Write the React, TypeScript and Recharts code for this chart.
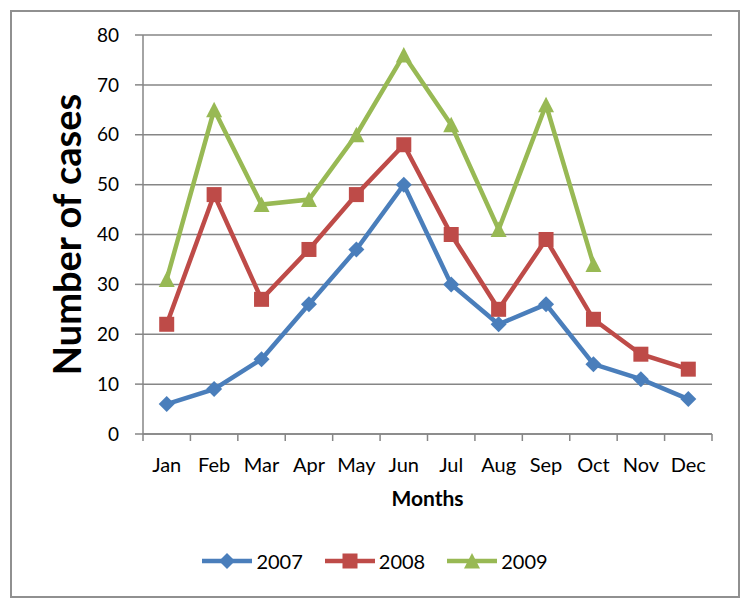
import React from 'react';
import { LineChart, Line, XAxis, YAxis, CartesianGrid, Legend, Label } from 'recharts';

const months = ['Jan', 'Feb', 'Mar', 'Apr', 'May', 'Jun', 'Jul', 'Aug', 'Sep', 'Oct', 'Nov', 'Dec'];
const cases2007 = [6, 9, 15, 26, 37, 50, 30, 22, 26, 14, 11, 7];
const cases2008 = [22, 48, 27, 37, 48, 58, 40, 25, 39, 23, 16, 13];
const cases2009 = [31, 65, 46, 47, 60, 76, 62, 41, 66, 34, null, null];
const yTicks = [0, 10, 20, 30, 40, 50, 60, 70, 80];

const data = months.map((m, i) => ({
  month: m,
  y2007: cases2007[i],
  y2008: cases2008[i],
  y2009: cases2009[i],
}));

const W = 750;
const H = 607;
const margin = { top: 35, right: 38, left: 0, bottom: 0 };
const Y_AXIS_W = 143;
const X_AXIS_H = 173;
const HALF_BAND = (W - Y_AXIS_W - margin.right) / months.length / 2;

const FONT = 'Lato, "Open Sans", sans-serif';
const GRID = '#868686';
const BLUE = '#4A7EBB';
const RED = '#BE4B48';
const GREEN = '#98B954';

const Diamond = ({ cx, cy, fill }: any) =>
  cx == null || cy == null ? <g /> : (
    <polygon points={`${cx},${cy - 8} ${cx + 8},${cy} ${cx},${cy + 8} ${cx - 8},${cy}`} fill={fill} />
  );
const Square = ({ cx, cy, fill }: any) =>
  cx == null || cy == null ? <g /> : <rect x={cx - 7.5} y={cy - 7.5} width={15} height={15} fill={fill} />;
const Triangle = ({ cx, cy, fill }: any) =>
  cx == null || cy == null ? <g /> : (
    <polygon points={`${cx},${cy - 8} ${cx + 8},${cy + 7.5} ${cx - 8},${cy + 7.5}`} fill={fill} />
  );

const series = [
  { key: 'y2007', name: '2007', color: BLUE, Marker: Diamond },
  { key: 'y2008', name: '2008', color: RED, Marker: Square },
  { key: 'y2009', name: '2009', color: GREEN, Marker: Triangle },
];

const MonthTick = ({ x, y, payload, index }: any) => (
  <g>
    <line x1={x - HALF_BAND} x2={x - HALF_BAND} y1={y - 8} y2={y - 1} stroke={GRID} strokeWidth={1.5} />
    {index === months.length - 1 && (
      <line x1={x + HALF_BAND} x2={x + HALF_BAND} y1={y - 8} y2={y - 1} stroke={GRID} strokeWidth={1.5} />
    )}
    <text x={x} y={y} dy={22} textAnchor="middle" dominantBaseline="central" fill="#000" fontSize={20} fontFamily={FONT}>
      {payload.value}
    </text>
  </g>
);

const LegendContent = () => (
  <div style={{ display: 'flex', justifyContent: 'center', alignItems: 'center', fontFamily: FONT, fontSize: 20 }}>
    {series.map((s) => (
      <div key={s.key} style={{ display: 'flex', alignItems: 'center', margin: '0 11px' }}>
        <svg width={50} height={20}>
          <line x1={0} x2={50} y1={10} y2={10} stroke={s.color} strokeWidth={4.5} />
          <s.Marker cx={25} cy={10} fill={s.color} />
        </svg>
        <span style={{ marginLeft: 4, color: '#000' }}>{s.name}</span>
      </div>
    ))}
  </div>
);

export default function App() {
  return (
    <div style={{ position: 'absolute', left: 0, top: 0, width: W, height: H, background: '#fff' }}>
      <div
        style={{
          position: 'absolute',
          left: 10,
          top: 10,
          width: 726,
          height: 584,
          border: '2px solid #909090',
        }}
      />
      <LineChart width={W} height={H} data={data} margin={margin}>
        <CartesianGrid vertical={false} stroke={GRID} strokeWidth={1.5} />
        <XAxis
          dataKey="month"
          height={X_AXIS_H}
          padding={{ left: HALF_BAND, right: HALF_BAND }}
          stroke={GRID}
          strokeWidth={1.5}
          tickLine={false}
          tickSize={8}
          tickMargin={0}
          interval={0}
          tick={<MonthTick />}
        >
          <Label
            content={({ viewBox }: any) => (
              <text
                x={viewBox.x + viewBox.width / 2}
                y={viewBox.y + 63}
                textAnchor="middle"
                dominantBaseline="central"
                fontFamily={FONT}
                fontWeight="bold"
                fontSize={21}
                fill="#000"
              >
                Months
              </text>
            )}
          />
        </XAxis>
        <YAxis
          width={Y_AXIS_W}
          domain={[0, 80]}
          ticks={yTicks}
          interval={0}
          stroke={GRID}
          strokeWidth={1.5}
          tickSize={8}
          tickMargin={16}
          tick={{ fill: '#000', fontSize: 19, fontFamily: FONT }}
        >
          <Label
            content={({ viewBox }: any) => (
              <text
                x={66}
                y={viewBox.y + viewBox.height / 2}
                transform={`rotate(-90, 66, ${viewBox.y + viewBox.height / 2})`}
                textAnchor="middle"
                dominantBaseline="central"
                fontFamily={FONT}
                fontWeight="bold"
                fontSize={38}
                fill="#000"
              >
                Number of cases
              </text>
            )}
          />
        </YAxis>
        <Legend
          layout="horizontal"
          verticalAlign="middle"
          align="center"
          content={<LegendContent />}
          wrapperStyle={{ left: 0, top: 549, width: W }}
        />
        {series.map((s) => (
          <Line
            key={s.key}
            type="linear"
            dataKey={s.key}
            name={s.name}
            stroke={s.color}
            strokeWidth={4.5}
            dot={(p: any) => <s.Marker key={`${s.key}-${p.index}`} cx={p.cx} cy={p.cy} fill={s.color} />}
            activeDot={false}
            isAnimationActive={false}
          />
        ))}
      </LineChart>
    </div>
  );
}
